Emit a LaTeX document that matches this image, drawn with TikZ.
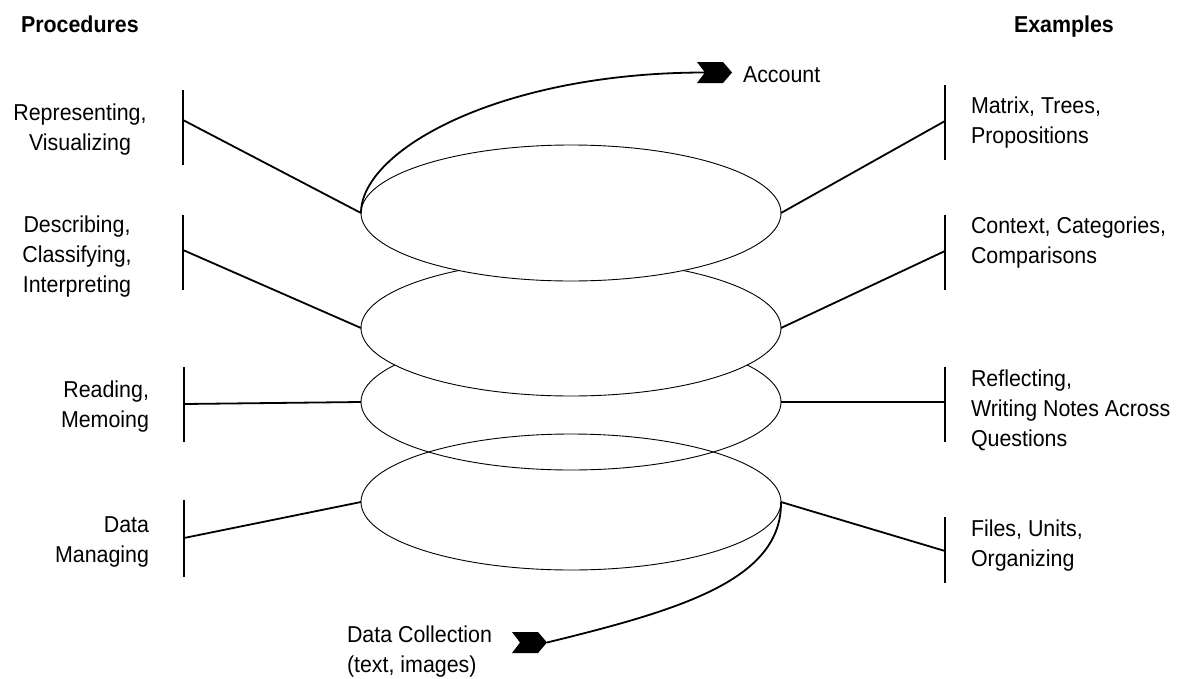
\documentclass[tikz,border=0pt]{standalone}
\usepackage{fontspec}
\setmainfont{Liberation Sans}[FakeStretch=0.93]
\usetikzlibrary{shapes.geometric}

% multi-line labels whose base is the first line's baseline
\newcommand\stackL[1]{\begin{tabular}[t]{@{}l@{}}#1\end{tabular}}
\newcommand\stackR[1]{\begin{tabular}[t]{@{}r@{}}#1\end{tabular}}
\newcommand\stackC[1]{\begin{tabular}[t]{@{}c@{}}#1\end{tabular}}

\begin{document}
\begin{tikzpicture}[x=1pt,y=-1pt,
  lbl/.style={inner sep=0pt, outer sep=0pt, font=\fontsize{23}{30}\selectfont},
  ell/.style={ellipse, draw, line width=0.9pt, minimum width=420pt,
              minimum height=136pt, inner sep=0pt, outer sep=0pt},
  bar/.style={line width=2pt},
  conn/.style={line width=1.8pt},
  flow/.style={line width=1.8pt},
  tip/.style={fill=black}]

\useasboundingbox (0,0) rectangle (1184,678);

% stacked layers: the two lower ones are open, the upper two are opaque
\node[ell] (e4) at (571,502) {};
\node[ell] (e3) at (571,402) {};
\node[ell, fill=white] (e2) at (571,328) {};
\node[ell, fill=white] (e1) at (571,213) {};

% headings
\node[lbl, anchor=base west] (hproc) at (21,32) {\bfseries Procedures};
\node[lbl, anchor=base west] (hex) at (1014,32) {\bfseries Examples};

% procedures (left)
\node[lbl, anchor=base] (tRep) at (80,120) {\stackC{Representing,\\Visualizing}};
\node[lbl, anchor=base] (tDesc) at (77,232) {\stackC{Describing,\\Classifying,\\Interpreting}};
\node[lbl, anchor=base east] (tRead) at (149,397) {\stackR{Reading,\\Memoing}};
\node[lbl, anchor=base east] (tData) at (149,532) {\stackR{Data\\Managing}};

% examples (right)
\node[lbl, anchor=base west] (tMat) at (971,113) {\stackL{Matrix, Trees,\\Propositions}};
\node[lbl, anchor=base west] (tCon) at (971,233) {\stackL{Context, Categories,\\Comparisons}};
\node[lbl, anchor=base west] (tRef) at (971,386) {\stackL{Reflecting,\\Writing Notes Across\\Questions}};
\node[lbl, anchor=base west] (tFil) at (971,536) {\stackL{Files, Units,\\Organizing}};

% output and input
\node[lbl, anchor=base west] (tAcc) at (743,82) {Account};
\node[lbl, anchor=base west] (tCol) at (347,642) {\stackL{Data Collection\\(text, images)}};

% brackets on the left
\draw[bar] (183,90) -- (183,165);
\draw[bar] (183,215) -- (183,290);
\draw[bar] (184,367) -- (184,442);
\draw[bar] (184,500) -- (184,577);
\coordinate (pl1) at (183,120);
\coordinate (pl2) at (183,250);
\coordinate (pl3) at (184,404);
\coordinate (pl4) at (184,538);

% brackets on the right
\draw[bar] (945,85) -- (945,160);
\draw[bar] (945,215) -- (945,290);
\draw[bar] (945,367) -- (945,442);
\draw[bar] (945,517) -- (945,583);
\coordinate (pr1) at (945,121);
\coordinate (pr2) at (945,251);
\coordinate (pr3) at (945,402);
\coordinate (pr4) at (945,551);

% links from brackets to layers
\draw[conn] (pl1) -- (e1.west);
\draw[conn] (pl2) -- (e2.west);
\draw[conn] (pl3) -- (e3.west);
\draw[conn] (pl4) -- (e4.west);
\draw[conn] (pr1) -- (e1.east);
\draw[conn] (pr2) -- (e2.east);
\draw[conn] (pr3) -- (e3.east);
\draw[conn] (pr4) -- (e4.east);

% chevron heads
\fill[tip] (697,62) -- (723,62) -- (732,72.5) -- (723,83) -- (697,83) -- (705,72.5) -- cycle;
\coordinate (accIn) at (705,72.5);
\fill[tip] (512,632) -- (538,632) -- (547,642.5) -- (538,653) -- (512,653) -- (520,642.5) -- cycle;
\coordinate (colOut) at (547,642.5);

% spiral flow
\draw[flow] (e1.west) .. controls (361,150) and (500,72.5) .. (accIn);
\draw[flow] (colOut) .. controls (680,610) and (782,580) .. (e4.east);

\end{tikzpicture}
\end{document}
